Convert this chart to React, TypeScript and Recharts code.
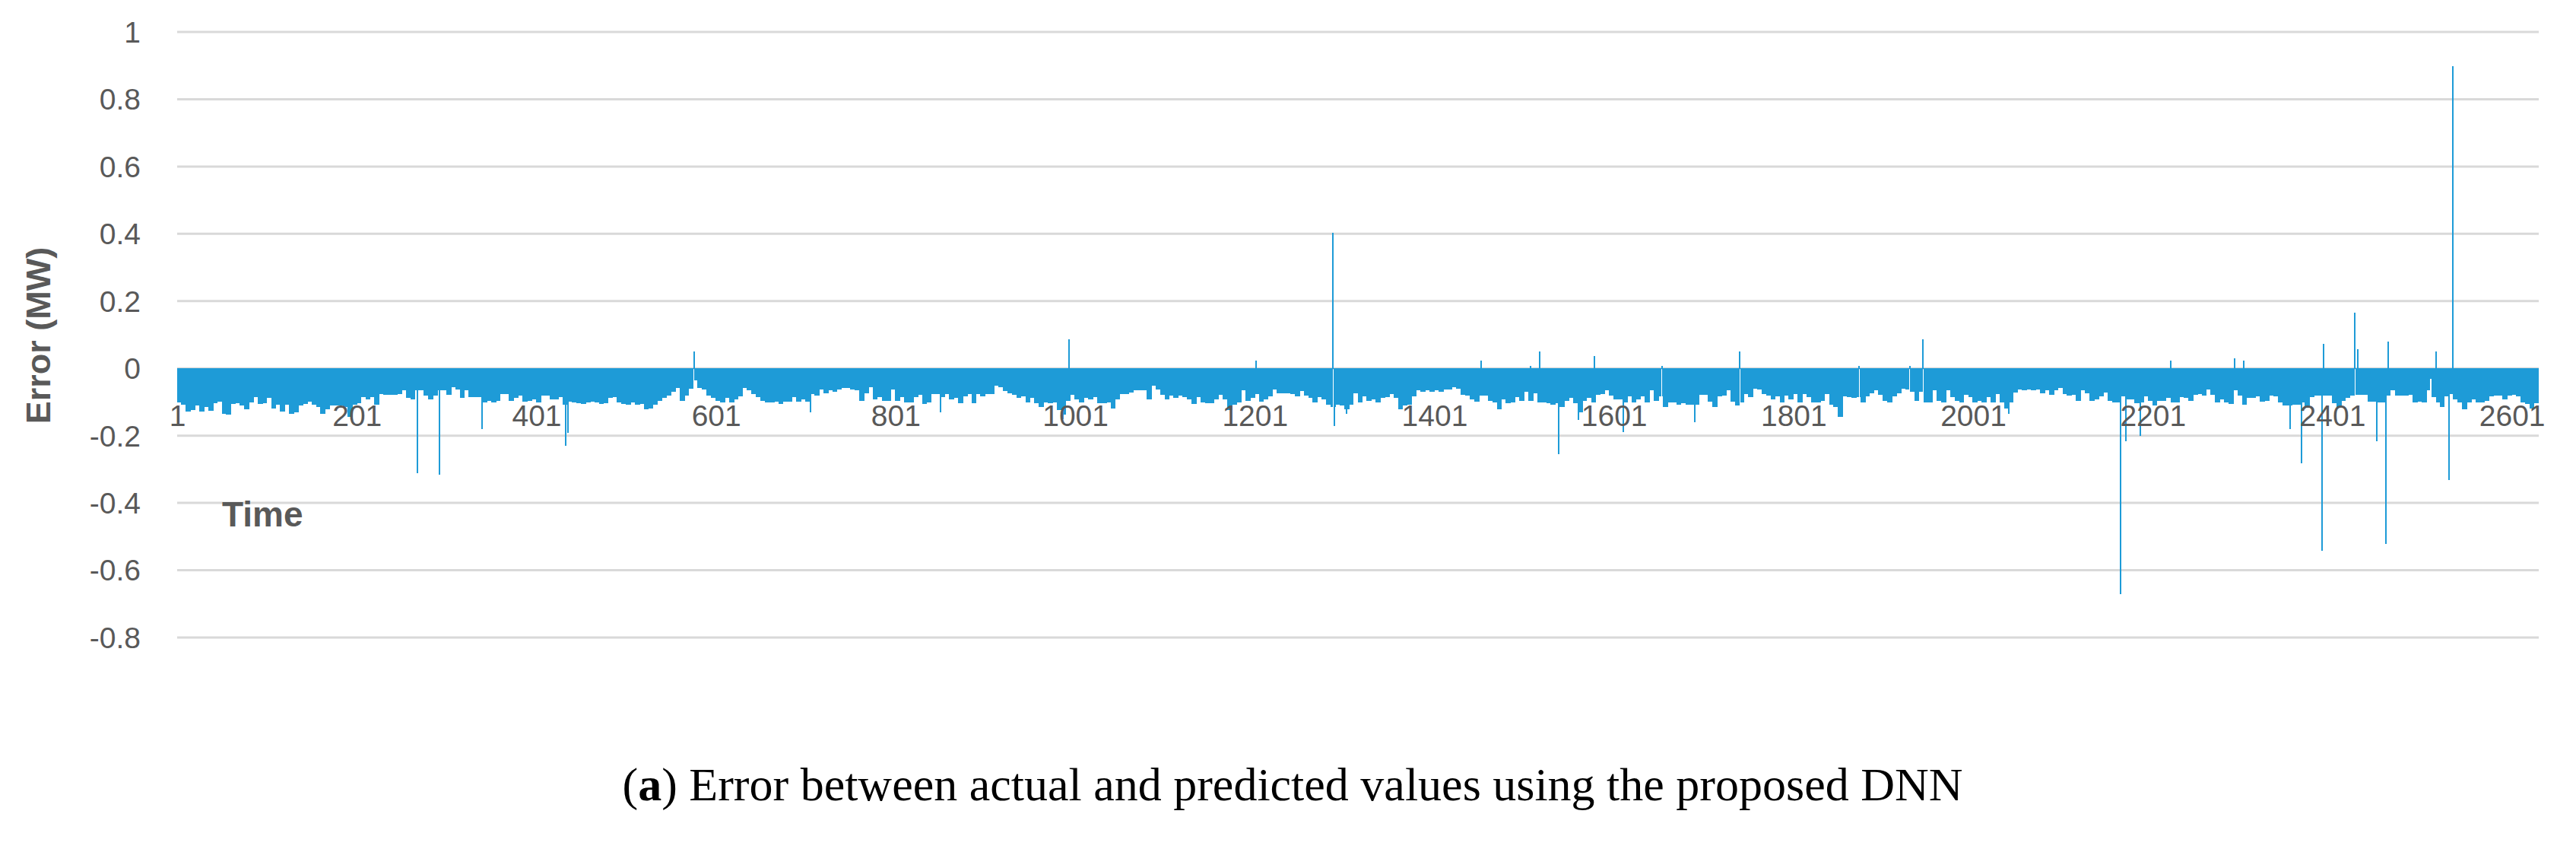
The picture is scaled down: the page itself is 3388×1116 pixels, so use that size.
import React from 'react';
import { BarChart, Bar, XAxis, YAxis, CartesianGrid } from 'recharts';

// ---------- data ----------
const CATEGORY_COUNT = 2630;
const BLOCK_SIZE = 5; // baseline read every 5 time steps

const baseline: number[] = [
  -0.099,-0.106,-0.127,-0.123,-0.110,-0.127,-0.114,-0.124,-0.103,-0.097,
  -0.133,-0.137,-0.105,-0.103,-0.110,-0.121,-0.100,-0.084,-0.105,-0.103,
  -0.087,-0.118,-0.108,-0.127,-0.108,-0.135,-0.129,-0.110,-0.105,-0.097,
  -0.106,-0.114,-0.133,-0.121,-0.110,-0.110,-0.110,-0.114,-0.144,-0.106,
  -0.103,-0.084,-0.091,-0.084,-0.106,-0.075,-0.078,-0.078,-0.078,-0.075,
  -0.063,-0.087,-0.091,-0.063,-0.065,-0.080,-0.091,-0.080,-0.065,-0.065,
  -0.078,-0.054,-0.061,-0.087,-0.065,-0.084,-0.084,-0.084,-0.100,-0.095,
  -0.100,-0.095,-0.076,-0.076,-0.095,-0.087,-0.080,-0.097,-0.095,-0.091,
  -0.100,-0.080,-0.080,-0.091,-0.091,-0.084,-0.106,-0.097,-0.100,-0.103,
  -0.105,-0.100,-0.097,-0.100,-0.105,-0.103,-0.087,-0.084,-0.100,-0.105,
  -0.106,-0.100,-0.106,-0.105,-0.121,-0.118,-0.106,-0.095,-0.087,-0.080,
  -0.069,-0.057,-0.095,-0.080,-0.060,-0.035,-0.057,-0.061,-0.080,-0.087,
  -0.095,-0.100,-0.087,-0.100,-0.091,-0.082,-0.057,-0.065,-0.075,-0.084,
  -0.095,-0.100,-0.100,-0.097,-0.105,-0.097,-0.097,-0.084,-0.097,-0.091,
  -0.097,-0.076,-0.080,-0.061,-0.072,-0.065,-0.069,-0.061,-0.057,-0.057,
  -0.061,-0.065,-0.095,-0.072,-0.055,-0.091,-0.084,-0.095,-0.095,-0.061,
  -0.095,-0.084,-0.100,-0.100,-0.084,-0.078,-0.105,-0.100,-0.075,-0.075,
  -0.084,-0.075,-0.091,-0.087,-0.103,-0.082,-0.075,-0.103,-0.076,-0.082,
  -0.076,-0.075,-0.050,-0.054,-0.067,-0.072,-0.078,-0.087,-0.082,-0.099,
  -0.087,-0.103,-0.114,-0.100,-0.103,-0.100,-0.123,-0.137,-0.095,-0.078,
  -0.091,-0.100,-0.087,-0.091,-0.084,-0.103,-0.103,-0.099,-0.118,-0.091,
  -0.076,-0.076,-0.070,-0.065,-0.065,-0.065,-0.091,-0.050,-0.061,-0.078,
  -0.091,-0.080,-0.087,-0.080,-0.084,-0.091,-0.105,-0.084,-0.100,-0.103,
  -0.103,-0.091,-0.078,-0.091,-0.123,-0.106,-0.100,-0.065,-0.095,-0.087,
  -0.076,-0.097,-0.091,-0.082,-0.061,-0.072,-0.072,-0.072,-0.075,-0.082,
  -0.067,-0.080,-0.087,-0.099,-0.084,-0.091,-0.106,-0.114,-0.106,-0.110,
  -0.121,-0.106,-0.072,-0.100,-0.082,-0.095,-0.091,-0.100,-0.087,-0.084,
  -0.076,-0.087,-0.121,-0.110,-0.106,-0.082,-0.063,-0.069,-0.065,-0.069,
  -0.065,-0.069,-0.061,-0.061,-0.054,-0.060,-0.078,-0.080,-0.091,-0.097,
  -0.080,-0.080,-0.095,-0.100,-0.121,-0.091,-0.103,-0.100,-0.084,-0.095,
  -0.069,-0.095,-0.072,-0.100,-0.100,-0.103,-0.106,-0.103,-0.114,-0.095,
  -0.087,-0.103,-0.129,-0.095,-0.087,-0.100,-0.078,-0.075,-0.065,-0.080,
  -0.091,-0.091,-0.100,-0.082,-0.100,-0.090,-0.082,-0.100,-0.065,-0.095,
  -0.082,-0.114,-0.100,-0.100,-0.106,-0.103,-0.106,-0.106,-0.106,-0.078,
  -0.078,-0.097,-0.114,-0.082,-0.080,-0.065,-0.097,-0.110,-0.100,-0.075,
  -0.084,-0.060,-0.061,-0.075,-0.080,-0.091,-0.082,-0.100,-0.080,-0.091,
  -0.075,-0.100,-0.075,-0.084,-0.100,-0.100,-0.095,-0.075,-0.106,-0.114,
  -0.144,-0.082,-0.084,-0.087,-0.084,-0.100,-0.082,-0.072,-0.063,-0.078,
  -0.095,-0.100,-0.082,-0.072,-0.060,-0.061,-0.069,-0.095,-0.069,-0.100,
  -0.099,-0.065,-0.095,-0.100,-0.065,-0.084,-0.095,-0.100,-0.078,-0.084,
  -0.100,-0.095,-0.100,-0.084,-0.100,-0.076,-0.100,-0.118,-0.100,-0.070,
  -0.061,-0.065,-0.061,-0.065,-0.061,-0.072,-0.065,-0.078,-0.065,-0.057,
  -0.075,-0.080,-0.078,-0.095,-0.065,-0.072,-0.095,-0.091,-0.082,-0.070,
  -0.095,-0.100,-0.100,-0.082,-0.091,-0.091,-0.103,-0.100,-0.082,-0.095,
  -0.110,-0.095,-0.095,-0.087,-0.100,-0.100,-0.084,-0.087,-0.095,-0.078,
  -0.076,-0.080,-0.061,-0.078,-0.100,-0.091,-0.100,-0.105,-0.065,-0.080,
  -0.106,-0.087,-0.087,-0.082,-0.097,-0.095,-0.080,-0.082,-0.100,-0.110,
  -0.110,-0.106,-0.106,-0.100,-0.115,-0.084,-0.080,-0.080,-0.080,-0.080,
  -0.103,-0.114,-0.095,-0.087,-0.080,-0.078,-0.078,-0.078,-0.097,-0.097,
  -0.100,-0.100,-0.080,-0.065,-0.080,-0.080,-0.080,-0.078,-0.100,-0.097,
  -0.100,-0.065,-0.084,-0.100,-0.114,-0.082,-0.075,-0.091,-0.100,-0.121,
  -0.100,-0.091,-0.100,-0.100,-0.095,-0.082,-0.080,-0.080,-0.091,-0.080,
  -0.078,-0.082,-0.100,-0.105,-0.118,-0.103,
];

// isolated spikes: [0-based time index, error]
const spikes: [number, number][] = [
  [267, -0.31], [292, -0.315], [339, -0.18], [432, -0.23], [435, -0.19],
  [575, 0.048], [705, -0.129], [850, -0.129], [986, -0.15], [993, 0.086],
  [1201, 0.022], [1287, 0.403], [1288, -0.17], [1302, -0.135],
  [1452, 0.022], [1507, 0.006], [1517, 0.05], [1538, -0.253], [1560, -0.152],
  [1578, 0.035], [1610, -0.188], [1653, 0.007], [1690, -0.16], [1740, 0.05],
  [1873, 0.007], [1929, 0.007], [1944, 0.086], [2039, -0.135],
  [2164, -0.67], [2170, -0.216], [2186, -0.2], [2220, 0.022],
  [2291, 0.028], [2301, 0.022], [2353, -0.18], [2365, -0.28],
  [2388, -0.54], [2390, 0.071], [2425, 0.165], [2428, 0.055],
  [2449, -0.216], [2459, -0.52], [2462, 0.078], [2509, -0.03], [2510, -0.03],
  [2515, 0.05], [2530, -0.33], [2534, 0.898],
];

const yTicks = [-0.8, -0.6, -0.4, -0.2, 0, 0.2, 0.4, 0.6, 0.8, 1];
const xTickLabels = ['1', '201', '401', '601', '801', '1001', '1201', '1401', '1601', '1801', '2001', '2201', '2401', '2601'];

const spikeMap = new Map<number, number>(spikes);
const data = Array.from({ length: CATEGORY_COUNT }, (_, i) => ({
  time: String(i + 1),
  error: spikeMap.has(i) ? (spikeMap.get(i) as number) : baseline[Math.floor(i / BLOCK_SIZE)],
}));

// ---------- layout ----------
const W = 3388;
const H = 1116;
const TOP = 42;
const PLOT_BOTTOM = 838;
const Y_AXIS_W = 233;
const X_AXIS_H = 30;
const Y_MIN = -0.8;
const Y_MAX = 1;
const ZERO_Y = TOP + ((PLOT_BOTTOM - TOP) * Y_MAX) / (Y_MAX - Y_MIN);

const TEXT_GRAY = '#595959';
const BAR_BLUE = '#1e9bd7';
const SANS = '"Liberation Sans", Arial, sans-serif';

const fmtY = (v: number) => String(Math.round(v * 10) / 10);

const XTick = (props: any) => {
  const { x, payload } = props;
  if (!xTickLabels.includes(String(payload.value))) return <g />;
  return (
    <text x={x} y={ZERO_Y + 62} textAnchor="middle" dominantBaseline="central"
      fill={TEXT_GRAY} fontSize={39} fontFamily={SANS}>
      {payload.value}
    </text>
  );
};

const YTitle = () => (
  <text x={50} y={441} transform="rotate(-90 50 441)" textAnchor="middle" dominantBaseline="central"
    fill={TEXT_GRAY} fontSize={45} fontWeight="bold" fontFamily={SANS}>
    Error (MW)
  </text>
);

const XTitle = () => (
  <text x={292} y={676} textAnchor="start" dominantBaseline="central"
    fill={TEXT_GRAY} fontSize={46} fontWeight="bold" fontFamily={SANS}>
    Time
  </text>
);

export default function App() {
  return (
    <div style={{ position: 'absolute', left: 0, top: 0, width: W, height: H, background: '#fff' }}>
      <BarChart
        width={W}
        height={H}
        data={data}
        margin={{ top: TOP, right: W - 3339, left: 0, bottom: H - PLOT_BOTTOM - X_AXIS_H }}
        barCategoryGap={0}
        barGap={0}
      >
        <CartesianGrid vertical={false} stroke="#d9d9d9" strokeWidth={3} />
        <XAxis
          dataKey="time"
          type="category"
          interval={199}
          height={X_AXIS_H}
          axisLine={false}
          tickLine={false}
          tick={<XTick />}
          label={{ content: () => <XTitle /> }}
        />
        <YAxis
          type="number"
          domain={[Y_MIN, Y_MAX]}
          ticks={yTicks}
          interval={0}
          width={Y_AXIS_W}
          axisLine={false}
          tickLine={false}
          tickSize={0}
          tickMargin={48}
          tickFormatter={fmtY}
          tick={{ fill: TEXT_GRAY, fontSize: 39, fontFamily: SANS }}
          label={{ content: () => <YTitle /> }}
        />
        <Bar
          dataKey="error"
          fill={BAR_BLUE}
          stroke={BAR_BLUE}
          strokeWidth={1}
          shapeRendering="crispEdges"
          isAnimationActive={false}
        />
      </BarChart>
      <div
        style={{
          position: 'absolute',
          left: 0,
          width: 3400,
          top: 1000,
          textAlign: 'center',
          fontFamily: '"Liberation Serif", "Times New Roman", serif',
          fontSize: 62,
          lineHeight: '62px',
          color: '#000',
          whiteSpace: 'nowrap',
        }}
      >
        (<b>a</b>) Error between actual and predicted values using the proposed DNN
      </div>
    </div>
  );
}
